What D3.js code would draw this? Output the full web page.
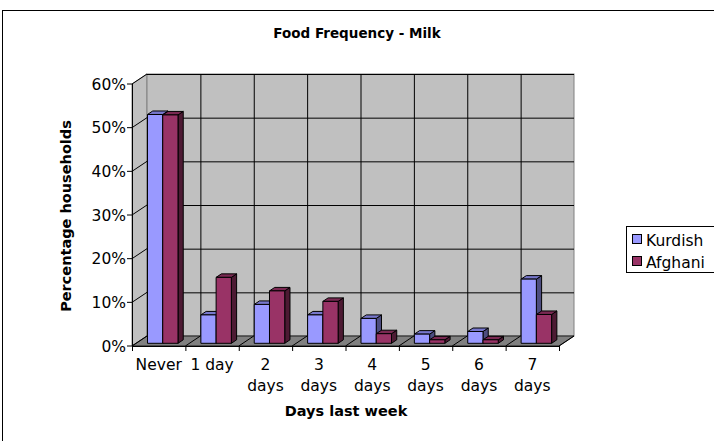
<!DOCTYPE html>
<html><head><meta charset="utf-8">
<script src="https://cdn.jsdelivr.net/npm/d3@7"></script>
<style>html,body{margin:0;padding:0;background:#fff;overflow:hidden}svg{display:block}</style>
</head><body>
<script>
const categories = ["Never", "1 day", "2 days", "3 days", "4 days", "5 days", "6 days", "7 days"];
const seriesNames = ["Kurdish", "Afghani"];
const kurdish = [52.4, 6.5, 8.9, 6.5, 5.7, 2.1, 2.7, 14.7];
const afghani = [52.3, 15.1, 12.0, 9.6, 2.2, 0.8, 0.8, 6.6];
const yTicks = [0, 10, 20, 30, 40, 50, 60];

const frontColors = ["#9999FF", "#993366"];
const topColors = ["#7777CC", "#7A2952"];
const sideColors = ["#4D4D80", "#4D1A33"];

const W = 714, H = 441;
const svg = d3.select("body").append("svg").attr("width", W).attr("height", H);
const FONT = "DejaVu Sans, Verdana, sans-serif";

// outer chart border
svg.append("rect").attr("x", 2.5).attr("y", 10.5).attr("width", 800).attr("height", 500)
  .attr("fill", "#fff").attr("stroke", "#000").attr("stroke-width", 1);

// geometry
const x0 = 132, x1 = 559, yBot = 346, yTop = 84;
const DX = 15, DY = -10; // depth offset
const x = d3.scaleBand().domain(categories).range([x0, x1]).paddingInner(1.5/3.5).paddingOuter(0.75/3.5);
const xFull = d3.scaleBand().domain(categories).range([x0, x1]);
const xs = d3.scaleBand().domain(seriesNames).range([0, x.bandwidth()]);
const y = d3.scaleLinear().domain([0, 60]).range([yBot, yTop]);
const P = (px, py, z) => [px + z * DX, py + z * DY];

// side wall
svg.append("polygon").attr("points", [P(x0, yTop, 0), P(x0, yTop, 1), P(x0, yBot, 1), P(x0, yBot, 0)].join(" "))
  .attr("fill", "#C0C0C0").attr("stroke", "#808080");
// back wall
svg.append("rect").attr("x", x0 + DX).attr("y", yTop + DY).attr("width", x1 - x0).attr("height", yBot - yTop)
  .attr("fill", "#C0C0C0").attr("stroke", "#808080");
// floor
svg.append("polygon").attr("points", [P(x0, yBot, 0), P(x1, yBot, 0), P(x1, yBot, 1), P(x0, yBot, 1)].join(" "))
  .attr("fill", "#808080").attr("stroke", "#000").attr("stroke-width", 0.8);

// horizontal gridlines (back wall + side wall)
const g = svg.append("g").attr("stroke", "#000").attr("stroke-width", 1).attr("fill", "none");
yTicks.filter(t => t > 0).forEach(t => {
  const yy = y(t);
  g.append("line").attr("x1", x0 + DX).attr("x2", x1 + DX).attr("y1", yy + DY + 0.5).attr("y2", yy + DY + 0.5);
  g.append("line").attr("x1", x0).attr("y1", yy).attr("x2", x0 + DX).attr("y2", yy + DY);
});
// vertical gridlines on back wall
categories.slice(1).forEach(c => {
  const xx = xFull(c) + DX;
  g.append("line").attr("x1", xx + 0.5).attr("x2", xx + 0.5).attr("y1", yTop + DY).attr("y2", yBot + DY);
});
// floor depth lines at category boundaries
categories.concat(["_end"]).forEach((c, i) => {
  const xx = i < categories.length ? xFull(c) : x1;
  g.append("line").attr("x1", xx).attr("y1", yBot).attr("x2", xx + DX).attr("y2", yBot + DY);
});

// bars
const zF = 0.27, zB = 0.62;
categories.forEach((c, i) => {
  [kurdish[i], afghani[i]].forEach((v, s) => {
    const bx0 = x(c) + xs(seriesNames[s]);
    const bx1 = bx0 + xs.bandwidth();
    const yt = y(v), yb = y(0);
    const bg = svg.append("g").attr("stroke", "#000").attr("stroke-width", 1).attr("stroke-linejoin", "round");
    // side face
    bg.append("polygon").attr("points", [P(bx1, yt, zF), P(bx1, yt, zB), P(bx1, yb, zB), P(bx1, yb, zF)].join(" "))
      .attr("fill", sideColors[s]);
    // top face
    bg.append("polygon").attr("points", [P(bx0, yt, zF), P(bx1, yt, zF), P(bx1, yt, zB), P(bx0, yt, zB)].join(" "))
      .attr("fill", topColors[s]);
    // front face
    const f0 = P(bx0, yt, zF), f1 = P(bx1, yb, zF);
    bg.append("rect").attr("x", f0[0]).attr("y", f0[1]).attr("width", f1[0] - f0[0]).attr("height", f1[1] - f0[1])
      .attr("fill", frontColors[s]);
  });
});

// y axis
const ya = svg.append("g").attr("stroke", "#000");
ya.append("line").attr("x1", x0 + 0.5).attr("x2", x0 + 0.5).attr("y1", yTop).attr("y2", yBot);
yTicks.forEach(t => {
  ya.append("line").attr("x1", x0 - 5).attr("x2", x0).attr("y1", y(t)).attr("y2", y(t));
});
svg.append("g").selectAll("text").data(yTicks).join("text")
  .attr("x", x0 - 6).attr("y", d => y(d)).attr("dy", "0.36em").attr("text-anchor", "end")
  .attr("font-family", FONT).attr("font-size", 15.5).attr("fill", "#000").text(d => d + "%");

// x axis
const xa = svg.append("g").attr("stroke", "#000");
xa.append("line").attr("x1", x0).attr("x2", x1).attr("y1", yBot + 0.5).attr("y2", yBot + 0.5);
categories.concat(["_end"]).forEach((c, i) => {
  const xx = i < categories.length ? xFull(c) : x1;
  xa.append("line").attr("x1", xx + 0.5).attr("x2", xx + 0.5).attr("y1", yBot).attr("y2", yBot + 5);
});
const xl = svg.append("g").attr("font-family", FONT).attr("font-size", 15.5).attr("fill", "#000").attr("text-anchor", "middle");
categories.forEach(c => {
  const cx = xFull(c) + xFull.bandwidth() / 2;
  const parts = c.split(" ");
  if (parts.length === 2 && c !== "1 day") {
    xl.append("text").attr("x", cx).attr("y", 370).text(parts[0]);
    xl.append("text").attr("x", cx).attr("y", 391).text(parts[1]);
  } else {
    xl.append("text").attr("x", cx).attr("y", 370).text(c);
  }
});

// titles
svg.append("text").attr("x", 357).attr("y", 38).attr("text-anchor", "middle")
  .attr("font-family", FONT).attr("font-weight", "bold").attr("font-size", 13.5).text("Food Frequency - Milk");
svg.append("text").attr("x", 346).attr("y", 416).attr("text-anchor", "middle")
  .attr("font-family", FONT).attr("font-weight", "bold").attr("font-size", 14.5).text("Days last week");
svg.append("text").attr("transform", "translate(71,216) rotate(-90)").attr("text-anchor", "middle")
  .attr("font-family", FONT).attr("font-weight", "bold").attr("font-size", 14.5).text("Percentage households");

// legend
const lg = svg.append("g");
lg.append("rect").attr("x", 626.5).attr("y", 226.5).attr("width", 120).attr("height", 46)
  .attr("fill", "#fff").attr("stroke", "#000");
seriesNames.forEach((s, i) => {
  const yy = 240 + i * 22;
  lg.append("rect").attr("x", 632.5).attr("y", yy - 5.5).attr("width", 9).attr("height", 9)
    .attr("fill", frontColors[i]).attr("stroke", "#000");
  lg.append("text").attr("x", 646).attr("y", yy).attr("dy", "0.36em")
    .attr("font-family", FONT).attr("font-size", 15.5).text(s);
});
</script>
</body></html>
